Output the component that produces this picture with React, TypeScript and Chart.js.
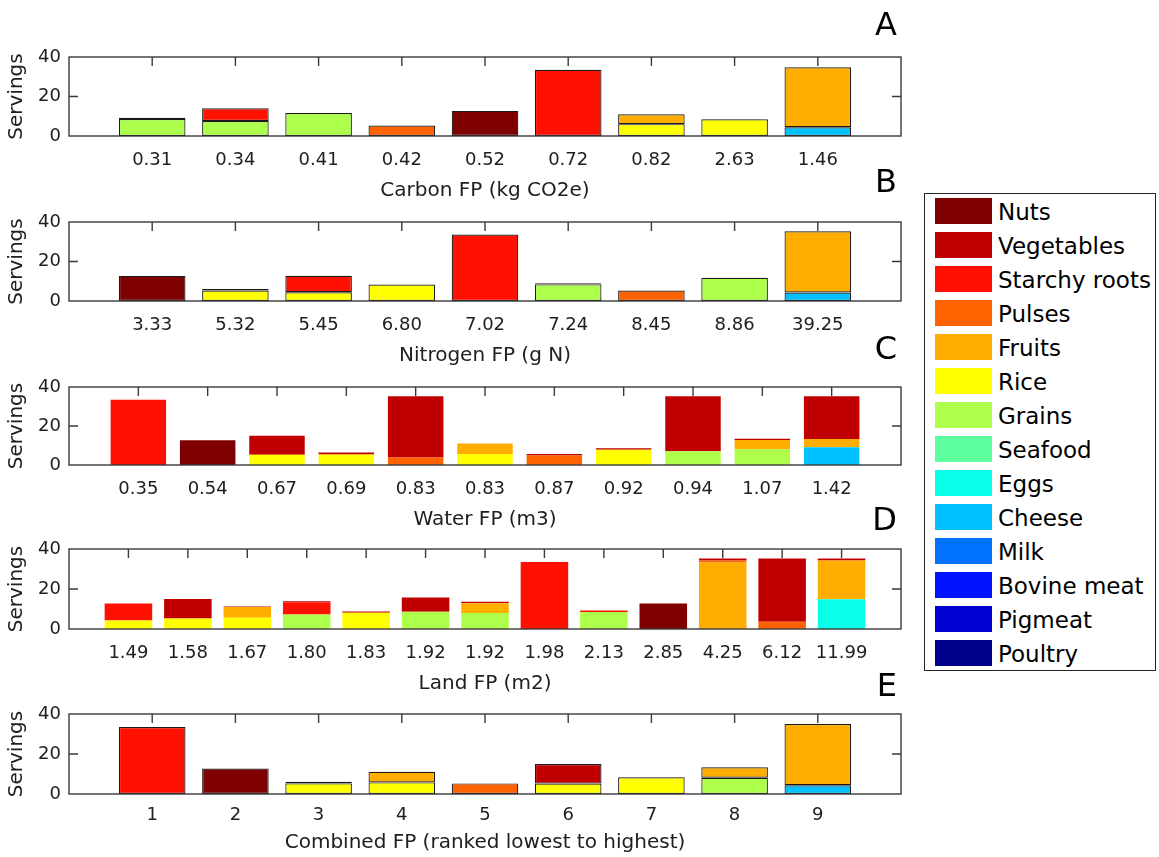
import React, { useEffect, useRef } from 'react';
import { Chart, registerables } from 'chart.js';

Chart.register(...registerables);

// ---------- data ----------
const groups = ['Nuts', 'Vegetables', 'Starchy roots', 'Pulses', 'Fruits', 'Rice', 'Grains', 'Seafood', 'Eggs', 'Cheese', 'Milk', 'Bovine meat', 'Pigmeat', 'Poultry'];
const groupColors = ['#7e0000', '#c00000', '#ff1000', '#ff6200', '#ffae00', '#ffff00', '#aeff4c', '#5eff9e', '#0affe8', '#00c0ff', '#0072ff', '#0014ff', '#0000d0', '#00008a'];

const carbonLabels = ['0.31', '0.34', '0.41', '0.42', '0.52', '0.72', '0.82', '2.63', '1.46'];
const carbonServings: Record<string, (number | null)[]> = {
  'Nuts': [null, null, null, null, 12.7, null, null, null, null],
  'Starchy roots': [0.6, 6.4, null, null, null, 33.5, null, null, null],
  'Pulses': [null, null, null, 5.3, null, null, null, null, null],
  'Fruits': [null, null, null, null, null, null, 5.0, null, 30.4],
  'Rice': [null, null, null, null, null, null, 6.0, 8.5, null],
  'Grains': [8.6, 7.6, 11.6, null, null, null, null, null, null],
  'Cheese': [null, null, null, null, null, null, null, null, 4.4],
};

const nitrogenLabels = ['3.33', '5.32', '5.45', '6.80', '7.02', '7.24', '8.45', '8.86', '39.25'];
const nitrogenServings: Record<string, (number | null)[]> = {
  'Nuts': [12.7, null, null, null, null, null, null, null, null],
  'Vegetables': [null, 0.8, null, null, null, null, null, null, null],
  'Starchy roots': [null, null, 8.4, null, 33.7, 0.6, null, null, null],
  'Pulses': [null, null, null, null, null, null, 5.3, null, null],
  'Fruits': [null, null, null, null, null, null, null, null, 31.0],
  'Rice': [null, 5.3, 4.4, 8.3, null, null, null, null, null],
  'Grains': [null, null, null, null, null, 8.4, null, 11.8, null],
  'Cheese': [null, null, null, null, null, null, null, null, 4.3],
};

const waterLabels = ['0.35', '0.54', '0.67', '0.69', '0.83', '0.83', '0.87', '0.92', '0.94', '1.07', '1.42'];
const waterServings: Record<string, (number | null)[]> = {
  'Nuts': [null, 12.7, null, null, null, null, null, null, null, null, null],
  'Vegetables': [null, null, 9.8, 0.9, 31.3, null, 0.7, 0.8, 28.1, 0.7, 21.9],
  'Starchy roots': [33.5, null, null, null, null, null, null, null, null, null, null],
  'Pulses': [null, null, null, null, 3.9, null, 4.9, null, null, null, null],
  'Fruits': [null, null, null, 0.4, null, 5.3, null, null, null, 4.7, 4.2],
  'Rice': [null, null, 5.2, 5.1, null, 5.7, null, 7.8, null, null, null],
  'Grains': [null, null, null, null, null, null, null, null, 7.1, 8.1, null],
  'Cheese': [null, null, null, null, null, null, null, null, null, null, 9.1],
};

const landLabels = ['1.49', '1.58', '1.67', '1.80', '1.83', '1.92', '1.92', '1.98', '2.13', '2.85', '4.25', '6.12', '11.99'];
const landServings: Record<string, (number | null)[]> = {
  'Nuts': [null, null, null, null, null, null, null, null, null, 12.8, null, null, null],
  'Vegetables': [null, 9.8, 0.3, 0.5, 0.7, 7.2, 0.7, null, null, null, 1.0, 31.6, 0.9],
  'Starchy roots': [8.6, null, null, 6.1, null, null, null, 33.5, 0.8, null, null, null, null],
  'Pulses': [null, null, null, null, null, null, null, null, null, null, 1.0, 3.6, null],
  'Fruits': [null, null, 5.4, null, null, null, 4.9, null, null, null, 33.2, null, 19.4],
  'Rice': [4.2, 5.2, 5.6, null, 8.1, null, null, null, null, null, null, null, null],
  'Grains': [null, null, null, 7.3, null, 8.6, 8.0, null, 8.5, null, null, null, null],
  'Eggs': [null, null, null, null, null, null, null, null, null, null, null, null, 14.9],
};

const combinedLabels = ['1', '2', '3', '4', '5', '6', '7', '8', '9'];
const combinedServings: Record<string, (number | null)[]> = {
  'Nuts': [null, 12.7, null, null, null, null, null, null, null],
  'Vegetables': [null, null, 0.8, null, null, 9.8, null, null, null],
  'Starchy roots': [33.5, null, null, null, null, null, null, null, null],
  'Pulses': [null, null, null, null, 5.3, null, null, null, null],
  'Fruits': [null, null, null, 5.3, null, null, null, 5.3, 30.6],
  'Rice': [null, null, 5.3, 5.8, null, 5.2, 8.4, null, null],
  'Grains': [null, null, null, null, null, null, null, 8.1, null],
  'Cheese': [null, null, null, null, null, null, null, null, 4.4],
};

const yTickValues = [0, 20, 40];
const yTitle = 'Servings';

// ---------- layout / style ----------
const FONT = '"DejaVu Sans", "Liberation Sans", Arial, sans-serif';
const AXIS_COLOR = '#202020';
const CANVAS_W = 910;
const AXIS_LEFT = 69;
const AXIS_RIGHT = 901;

type PanelCfg = {
  letter: string;
  letterY: number;
  title: string;
  labels: string[];
  servings: Record<string, (number | null)[]>;
  top: number;
  bottom: number;
  below: number;
  tickPad: number;
  titlePad: number;
  edges: boolean;
};

const panels: PanelCfg[] = [
  { letter: 'A', letterY: 23, title: 'Carbon FP (kg CO2e)', labels: carbonLabels, servings: carbonServings, top: 57, bottom: 136, below: 70, tickPad: 14, titlePad: 3, edges: true },
  { letter: 'B', letterY: 180, title: 'Nitrogen FP (g N)', labels: nitrogenLabels, servings: nitrogenServings, top: 222, bottom: 301, below: 70, tickPad: 14, titlePad: 3, edges: true },
  { letter: 'C', letterY: 347, title: 'Water FP (m3)', labels: waterLabels, servings: waterServings, top: 387, bottom: 465, below: 70, tickPad: 14, titlePad: 3, edges: false },
  { letter: 'D', letterY: 518, title: 'Land FP (m2)', labels: landLabels, servings: landServings, top: 549, bottom: 629, below: 70, tickPad: 14, titlePad: 3, edges: false },
  { letter: 'E', letterY: 684, title: 'Combined FP (ranked lowest to highest)', labels: combinedLabels, servings: combinedServings, top: 714, bottom: 794, below: 62, tickPad: 11, titlePad: 1, edges: true },
];

const boxPlugin = {
  id: 'matlabBox',
  afterDraw(chart: any) {
    const { ctx, chartArea, scales } = chart;
    const { left, right, top, bottom } = chartArea;
    const x = scales.x;
    const y = scales.y;
    ctx.save();
    ctx.strokeStyle = '#3a3a3a';
    ctx.lineWidth = 1.4;
    ctx.strokeRect(left, top, right - left, bottom - top);
    const tl = 9;
    ctx.beginPath();
    x.ticks.forEach((t: any) => {
      const px = x.getPixelForValue(t.value);
      ctx.moveTo(px, top);
      ctx.lineTo(px, top + tl);
    });
    y.ticks.forEach((t: any) => {
      if (t.value <= y.min || t.value >= y.max) return;
      const py = y.getPixelForValue(t.value);
      ctx.moveTo(left, py);
      ctx.lineTo(left + tl, py);
      ctx.moveTo(right, py);
      ctx.lineTo(right - tl, py);
    });
    ctx.stroke();
    ctx.restore();
  },
};

function Panel({ cfg }: { cfg: PanelCfg }) {
  const ref = useRef<HTMLCanvasElement | null>(null);
  const padTop = 25;
  const canvasTop = cfg.top - padTop;
  const canvasH = padTop + (cfg.bottom - cfg.top) + cfg.below;

  useEffect(() => {
    if (!ref.current) return;
    const n = cfg.labels.length;
    const positions = cfg.labels.map((_, i) => i + 1);
    const datasets = groups
      .map((g, gi) => ({ g, gi }))
      .reverse()
      .filter(({ g }) => cfg.servings[g])
      .map(({ g, gi }) => ({
        label: g,
        data: cfg.servings[g],
        backgroundColor: groupColors[gi],
        borderColor: cfg.edges ? '#1a1a1a' : 'rgba(255,255,255,0)',
        borderWidth: cfg.edges ? 1.2 : 0,
        borderSkipped: false as any,
        barPercentage: 0.8,
        categoryPercentage: 1,
      }));
    const tickFont = { family: FONT, size: 18 };
    const titleFont = { family: FONT, size: 20 };
    const chart = new Chart(ref.current, {
      type: 'bar',
      data: { labels: positions, datasets },
      plugins: [boxPlugin],
      options: {
        animation: false,
        responsive: false,
        maintainAspectRatio: false,
        devicePixelRatio: 1,
        events: [],
        layout: { padding: { top: padTop, right: CANVAS_W - AXIS_RIGHT, left: 0, bottom: 0 } },
        plugins: { legend: { display: false }, tooltip: { enabled: false } },
        scales: {
          x: {
            type: 'linear',
            stacked: true,
            min: 0,
            max: n + 1,
            offset: false,
            grid: { display: false, drawTicks: false, offset: false },
            border: { display: false },
            afterBuildTicks: (s: any) => {
              s.ticks = positions.map((v) => ({ value: v }));
            },
            afterFit: (s: any) => {
              s.height = cfg.below;
            },
            ticks: {
              autoSkip: false,
              maxRotation: 0,
              minRotation: 0,
              padding: cfg.tickPad,
              font: tickFont,
              color: AXIS_COLOR,
              callback: (v: any) => cfg.labels[Math.round(Number(v)) - 1] ?? '',
            },
            title: { display: true, text: cfg.title, font: titleFont, color: AXIS_COLOR, padding: { top: 0, bottom: cfg.titlePad } },
          },
          y: {
            type: 'linear',
            stacked: true,
            min: 0,
            max: 40,
            grid: { display: false, drawTicks: false },
            border: { display: false },
            afterBuildTicks: (s: any) => {
              s.ticks = yTickValues.map((v) => ({ value: v }));
            },
            afterFit: (s: any) => {
              s.width = AXIS_LEFT;
            },
            ticks: { padding: 8, font: tickFont, color: AXIS_COLOR },
            title: { display: true, text: yTitle, font: titleFont, color: AXIS_COLOR, padding: { top: 5, bottom: 0 } },
          },
        },
      } as any,
    });
    return () => chart.destroy();
  }, [cfg]);

  return (
    <>
      <canvas
        ref={ref}
        width={CANVAS_W}
        height={canvasH}
        style={{ position: 'absolute', left: 0, top: canvasTop, width: CANVAS_W, height: canvasH }}
      />
      <div
        style={{
          position: 'absolute',
          left: 840,
          width: 57,
          top: cfg.letterY - 15.5,
          height: 32,
          lineHeight: '32px',
          fontSize: 32,
          fontFamily: FONT,
          color: '#000',
          textAlign: 'right',
        }}
      >
        {cfg.letter}
      </div>
    </>
  );
}

function Legend() {
  return (
    <div
      style={{
        position: 'absolute',
        left: 924,
        top: 193,
        width: 232,
        height: 478,
        border: '1px solid #262626',
        background: '#fff',
        boxSizing: 'border-box',
      }}
    >
      {groups.map((g, i) => (
        <React.Fragment key={g}>
          <div
            style={{
              position: 'absolute',
              left: 10,
              top: 4 + i * 34,
              width: 57,
              height: 26,
              background: groupColors[i],
            }}
          />
          <div
            style={{
              position: 'absolute',
              left: 73,
              top: 5 + i * 34,
              height: 26,
              lineHeight: '26px',
              fontSize: 23,
              fontFamily: FONT,
              color: '#000',
              whiteSpace: 'nowrap',
            }}
          >
            {g}
          </div>
        </React.Fragment>
      ))}
    </div>
  );
}

export default function App() {
  return (
    <div
      style={{
        position: 'fixed',
        left: 0,
        top: 0,
        width: 1159,
        height: 857,
        background: '#fff',
        overflow: 'hidden',
      }}
    >
      {panels.map((p) => (
        <Panel key={p.letter} cfg={p} />
      ))}
      <Legend />
    </div>
  );
}
